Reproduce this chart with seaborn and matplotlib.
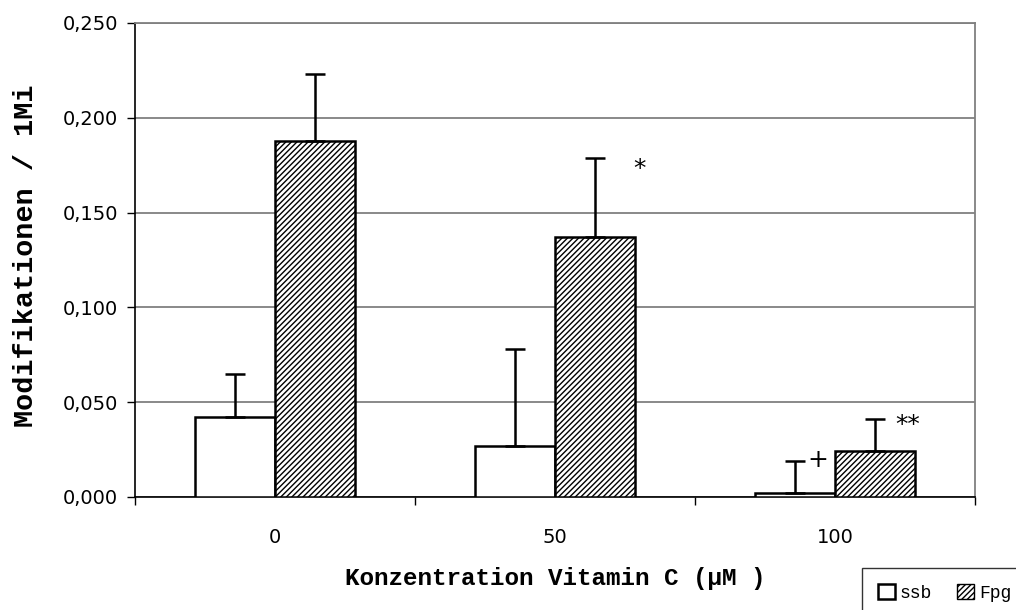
import numpy as np
import pandas as pd
import matplotlib
matplotlib.use("Agg")
import matplotlib.pyplot as plt
import seaborn as sns
from matplotlib.patches import Patch

# ---- data ----
categories = ["0", "50", "100"]
series = ["ssb", "Fpg"]
ssb_values = [0.042, 0.027, 0.002]
fpg_values = [0.188, 0.137, 0.024]
ssb_err = [0.023, 0.051, 0.017]
fpg_err = [0.035, 0.042, 0.017]
y_ticks = [0.0, 0.05, 0.10, 0.15, 0.20, 0.25]
y_tick_labels = ["0,000", "0,050", "0,100", "0,150", "0,200", "0,250"]
annot_texts = ["*", "**", "+"]
annot_x = [1.30, 2.26, 1.94]
annot_y = [0.173, 0.038, 0.0195]

df = pd.DataFrame({
    "conc": categories * 2,
    "series": [series[0]] * 3 + [series[1]] * 3,
    "value": ssb_values + fpg_values,
})

sns.set_style("white")
plt.rcParams["hatch.linewidth"] = 1.0
plt.rcParams["text.color"] = "black"
plt.rcParams["axes.labelcolor"] = "black"
plt.rcParams["xtick.color"] = "black"
plt.rcParams["ytick.color"] = "black"

fig = plt.figure(figsize=(10.16, 6.10), dpi=100)
ax = fig.add_axes([135 / 1016, 1 - 497 / 610, 840 / 1016, 474 / 610])

sns.barplot(data=df, x="conc", y="value", hue="series", order=categories,
            hue_order=series, palette=["white", "white"], edgecolor="black",
            linewidth=1.8, width=0.572, errorbar=None, legend=False, ax=ax,
            zorder=3)

# hatch Fpg bars
for p in ax.containers[1]:
    p.set_hatch("//////")

# error bars (upward only)
for cont, errs in zip(ax.containers, [ssb_err, fpg_err]):
    xs = [p.get_x() + p.get_width() / 2 for p in cont]
    ys = [p.get_height() for p in cont]
    ax.errorbar(xs, ys, yerr=[np.zeros(len(errs)), errs], fmt="none",
                ecolor="black", elinewidth=1.8, capsize=7, capthick=1.8,
                zorder=4)

for t, x, y in zip(annot_texts, annot_x, annot_y):
    ax.text(x, y, t, ha="center", va="center", fontsize=18,
            family="DejaVu Sans", color="black")

ax.set_xlim(-0.5, 2.5)
ax.set_ylim(0, 0.25)
ax.set_yticks(y_ticks)
ax.set_yticklabels(y_tick_labels, fontsize=14, family="DejaVu Sans")
ax.set_xticks(range(len(categories)))
ax.set_xticklabels(categories, fontsize=14, family="DejaVu Sans")
ax.set_xticks([-0.5, 0.5, 1.5, 2.5], minor=True)
ax.tick_params(axis="x", which="major", length=0, pad=22)
ax.tick_params(axis="x", which="minor", length=6, width=1, color="black",
               direction="out", bottom=True)
ax.tick_params(axis="y", which="major", length=6, width=1, color="black",
               direction="out", left=True, pad=6)

ax.yaxis.grid(True, color="#808080", linewidth=1.3, zorder=0)
ax.set_axisbelow(True)
for s in ["top", "right"]:
    ax.spines[s].set_visible(True)
    ax.spines[s].set_color("#808080")
    ax.spines[s].set_linewidth(1.3)
for s in ["left", "bottom"]:
    ax.spines[s].set_color("black")
    ax.spines[s].set_linewidth(1.2)

ax.set_ylabel("Modifikationen / 1Mi", fontsize=20.5, family="Liberation Mono",
              fontweight="bold", color="black")
ax.yaxis.set_label_coords(-0.114, 0.51)
ax.set_xlabel("Konzentration Vitamin C (µM )", fontsize=17.5,
              family="Liberation Mono", fontweight="bold", color="black")
ax.xaxis.set_label_coords(0.5, -0.148)

handles = [Patch(facecolor="white", edgecolor="black", linewidth=1.8, label=series[0]),
           Patch(facecolor="white", edgecolor="black", linewidth=1.0,
                 hatch="//////", label=series[1])]
leg = fig.legend(handles=handles, loc="upper left",
                 bbox_to_anchor=(862 / 1016, 1 - 568 / 610), ncol=2,
                 borderaxespad=0, frameon=True, fancybox=False,
                 handlelength=0.9, handleheight=0.9, handletextpad=0.3,
                 columnspacing=1.4, borderpad=0.9,
                 prop={"family": "Liberation Mono", "size": 13})
leg.get_frame().set_edgecolor("black")
leg.get_frame().set_linewidth(1.0)

fig.savefig("out.png", dpi=100)
